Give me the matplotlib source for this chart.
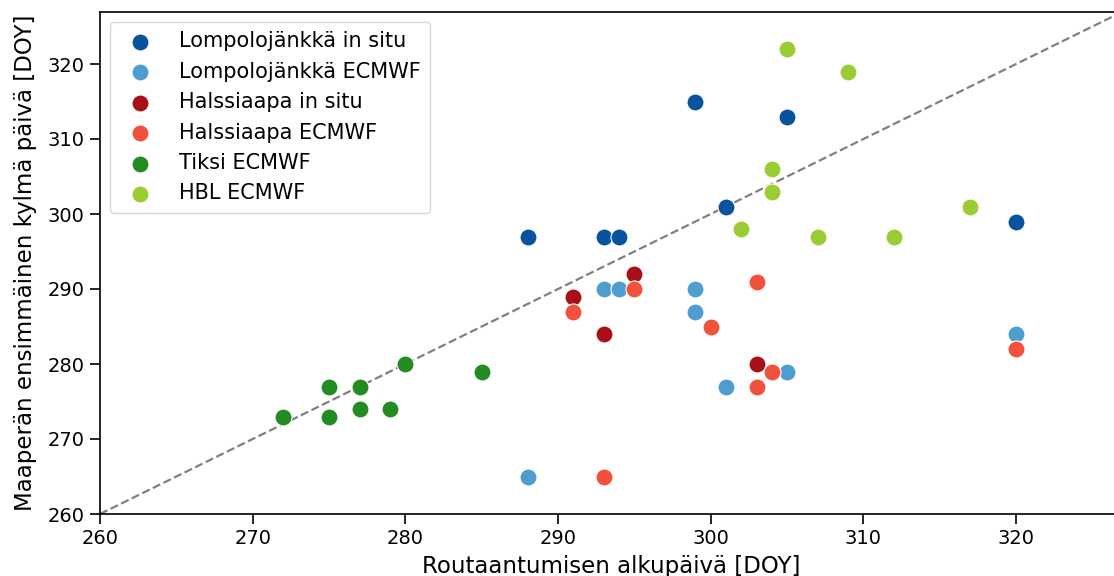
import numpy as np
import matplotlib
matplotlib.use("Agg")
import matplotlib.pyplot as plt

# Routaantumisen alkupäivä (x) vs. maaperän ensimmäinen kylmä päivä (y), DOY
lompolo_situ_x = [288, 293, 294, 299, 301, 305, 320]
lompolo_situ_y = [297, 297, 297, 315, 301, 313, 299]

lompolo_ecmwf_x = [288, 293, 294, 299, 299, 301, 305, 320]
lompolo_ecmwf_y = [265, 290, 290, 290, 287, 277, 279, 284]

halssi_situ_x = [291, 293, 295, 303]
halssi_situ_y = [289, 284, 292, 280]

halssi_ecmwf_x = [291, 293, 295, 300, 303, 303, 304, 320]
halssi_ecmwf_y = [287, 265, 290, 285, 291, 277, 279, 282]

tiksi_x = [272, 275, 275, 277, 277, 279, 280, 285]
tiksi_y = [273, 277, 273, 277, 274, 274, 280, 279]

hbl_x = [305, 309, 304, 304, 302, 307, 312, 317]
hbl_y = [322, 319, 306, 303, 298, 297, 297, 301]

sarjat = [
    ("Lompolojänkkä in situ", lompolo_situ_x, lompolo_situ_y, "#08529e"),
    ("Lompolojänkkä ECMWF", lompolo_ecmwf_x, lompolo_ecmwf_y, "#4f9ccf"),
    ("Halssiaapa in situ", halssi_situ_x, halssi_situ_y, "#a80f18"),
    ("Halssiaapa ECMWF", halssi_ecmwf_x, halssi_ecmwf_y, "#f2513c"),
    ("Tiksi ECMWF", tiksi_x, tiksi_y, "#228b22"),
    ("HBL ECMWF", hbl_x, hbl_y, "#9acd32"),
]

lim = (260, 327)

fig = plt.figure(figsize=(11.14, 5.76), dpi=100)
ax = fig.add_axes([100 / 1114, 62 / 576, 1023 / 1114, 502.5 / 576])

ax.plot(lim, lim, linestyle="--", color="gray", linewidth=1.6, zorder=1)
for nimi, x, y, vari in sarjat:
    ax.scatter(x, y, s=150, color=vari, edgecolor="white", linewidth=0.8,
               label=nimi, zorder=3)

ax.set_xlim(lim)
ax.set_ylim(lim)
ax.set_xticks(np.arange(260, 321, 10))
ax.set_yticks(np.arange(260, 321, 10))
ax.tick_params(labelsize=14, length=7, width=1.2, pad=4)
for sp in ax.spines.values():
    sp.set_linewidth(1.2)
ax.set_xlabel("Routaantumisen alkupäivä [DOY]", fontsize=16.5, labelpad=5)
ax.set_ylabel("Maaperän ensimmäinen kylmä päivä [DOY]", fontsize=16.5, labelpad=8)

ax.legend(loc="upper left", fontsize=15, markerscale=1.0, handletextpad=0.85,
          borderpad=0.45, labelspacing=0.5, framealpha=0.8,
          borderaxespad=0, bbox_to_anchor=(110 / 1114, 1 - 22 / 576),
          bbox_transform=fig.transFigure)

fig.savefig("out.png", dpi=100)
